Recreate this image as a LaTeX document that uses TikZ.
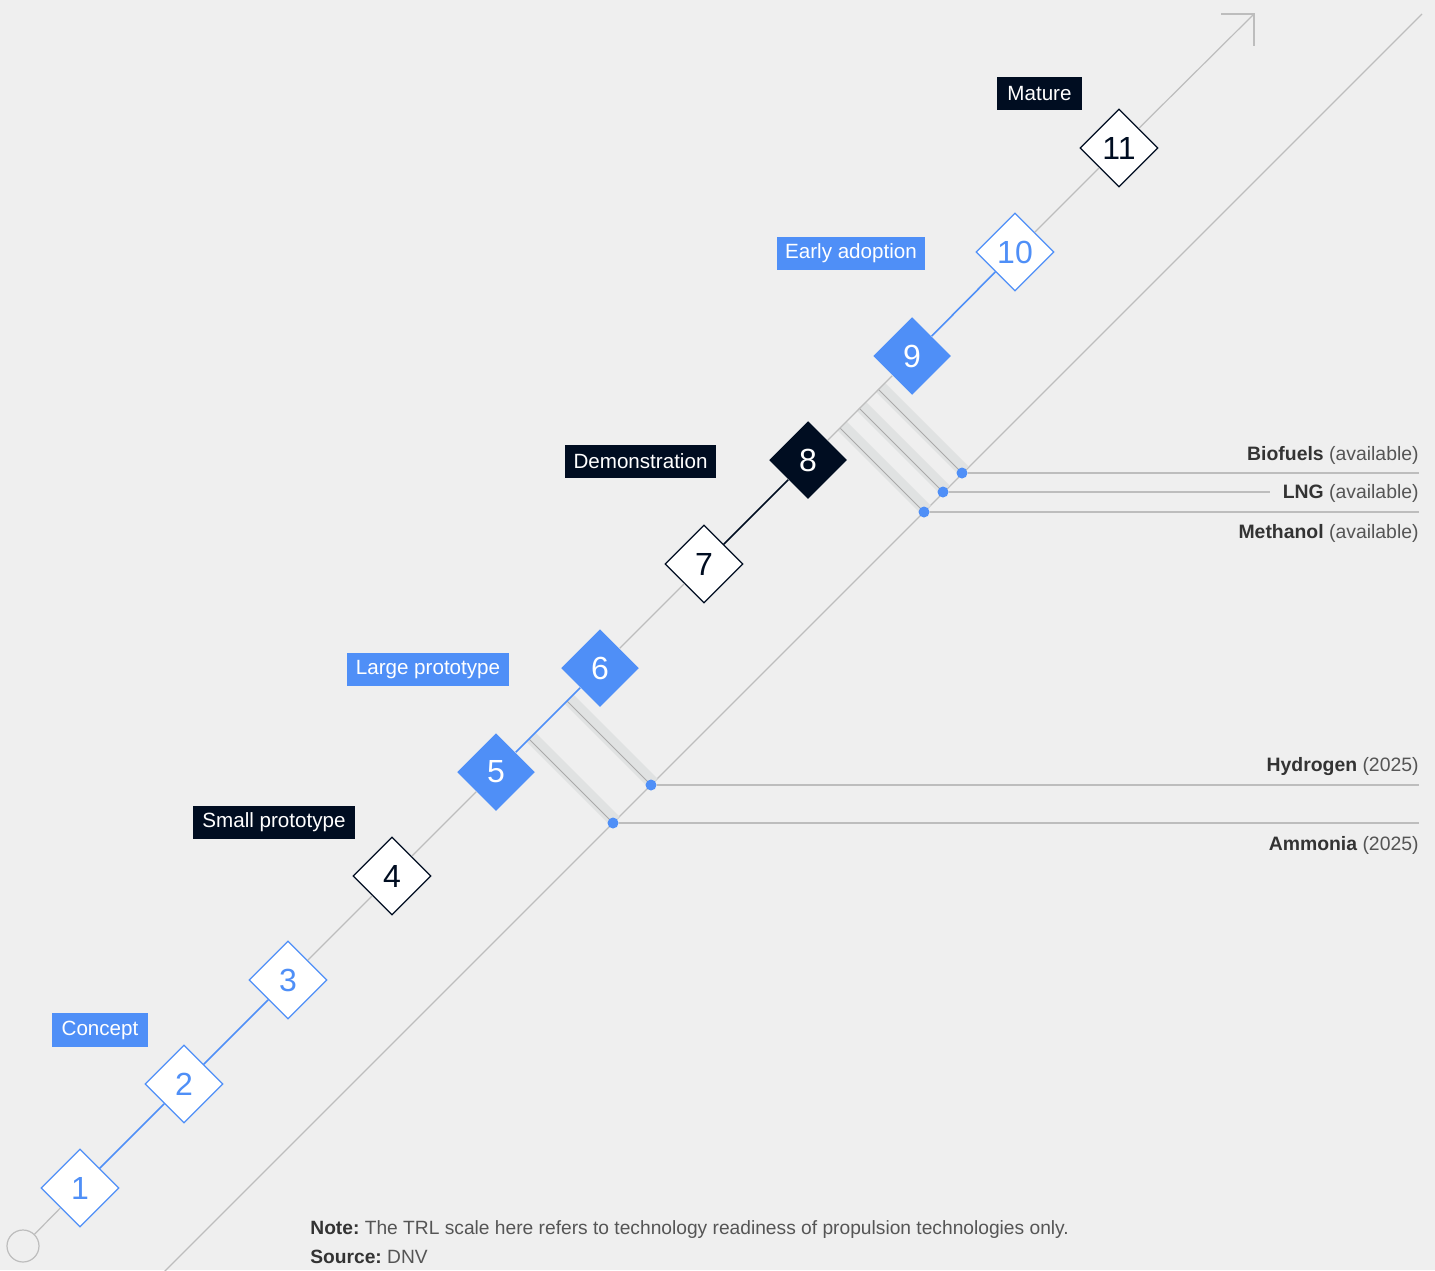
\documentclass[tikz,border=0pt]{standalone}
\usepackage{fontspec}
\setmainfont{Liberation Sans}
\usetikzlibrary{shapes.geometric}
\definecolor{bg}{HTML}{EFEFEF}
\definecolor{tblue}{HTML}{4F8FF7}
\definecolor{navy}{HTML}{000D21}
\definecolor{lgray}{HTML}{BDBDBD}
\definecolor{bandgray}{HTML}{E0E2E2}
\definecolor{bandline}{HTML}{A9A9A9}
\definecolor{darktext}{HTML}{333333}
\definecolor{midtext}{HTML}{555555}
\begin{document}
\begin{tikzpicture}[x=0.5pt,y=-0.5pt,
 dia/.style={diamond, aspect=1, minimum width=39pt, minimum height=39pt, inner sep=0pt, font=\fontsize{16}{16}\selectfont, line width=0.6pt},
 dwb/.style={dia, fill=white, draw=tblue, text=tblue},
 dwk/.style={dia, fill=white, draw=navy, text=navy},
 dblue/.style={dia, fill=tblue, text=white},
 dnavy/.style={dia, fill=navy, text=white},
 stage/.style={inner sep=0pt, minimum height=16.5pt, text=white, font=\fontsize{10.3}{12}\selectfont},
 seggray/.style={lgray, line width=0.6pt},
 segblue/.style={tblue, line width=0.8pt},
 segnavy/.style={navy, line width=0.8pt},
 dot/.style={circle, fill=tblue, inner sep=0pt, minimum size=5.5pt},
 hline/.style={lgray, line width=0.6pt},
 fuel/.style={anchor=east, inner sep=0pt, text=midtext, font=\fontsize{9.7}{12}\selectfont},
 notetext/.style={anchor=west, inner sep=0pt, text=midtext, font=\fontsize{9.6}{12}\selectfont},
]
\fill[bg] (0,0) rectangle (1435,1270);
\useasboundingbox (0,0) rectangle (1435,1270);
\clip (0,0) rectangle (1435,1270);

% second (gray) line
\coordinate (s0) at (156,1280);
\coordinate (s1) at (1422,14);
\draw[seggray] (s0) -- (s1);

% fuel bands
\foreach \dx/\dy in {962/473,943/492,924/512,651/785,613/823} {
  \fill[bandgray] ({\dx-84-2.5},{\dy-84+2.5}) -- ({\dx-84+6.5},{\dy-84-6.5}) -- ({\dx+6.5},{\dy-6.5}) -- ({\dx-2.5},{\dy+2.5}) -- cycle;
  \draw[bandline, line width=0.5pt] ({\dx-84},{\dy-84}) -- (\dx,\dy);
}

% start circle and arrow tip
\node[circle, draw=lgray, line width=0.6pt, minimum size=16pt, inner sep=0pt] (c0) at (23,1246) {};
\coordinate (tip) at (1254,14);
\coordinate (tipl) at (1221,14);
\coordinate (tipd) at (1254,46);

% diamonds
\node[dwb] (d1) at (80,1188) {1};
\node[dwb] (d2) at (184,1084) {2};
\node[dwb] (d3) at (288,980) {3};
\node[dwk] (d4) at (392,876) {4};
\node[dblue] (d5) at (496,772) {5};
\node[dblue] (d6) at (600,668) {6};
\node[dwk] (d7) at (704,564) {7};
\node[dnavy] (d8) at (808,460) {8};
\node[dblue] (d9) at (912,356) {9};
\node[dwb] (d10) at (1015,252) {10};
\node[dwk] (d11) at (1119,148) {11};

% main line segments
\draw[seggray] (c0) -- (d1);
\draw[segblue] (d1) -- (d2);
\draw[segblue] (d2) -- (d3);
\draw[seggray] (d3) -- (d4);
\draw[seggray] (d4) -- (d5);
\draw[segblue] (d5) -- (d6);
\draw[seggray] (d6) -- (d7);
\draw[segnavy] (d7) -- (d8);
\draw[seggray] (d8) -- (d9);
\draw[segblue] (d9) -- (d10);
\draw[seggray] (d10) -- (d11);
\draw[seggray] (d11) -- (tip);
\draw[seggray] (tipl) -- (tip) -- (tipd);

% dots and horizontal lines
\node[dot] (f1) at (962,473) {};
\node[dot] (f2) at (943,492) {};
\node[dot] (f3) at (924,512) {};
\node[dot] (f4) at (651,785) {};
\node[dot] (f5) at (613,823) {};
\coordinate (e1) at (1419,473);
\coordinate (e2) at (1270,492);
\coordinate (e3) at (1419,512);
\coordinate (e4) at (1419,785);
\coordinate (e5) at (1419,823);
\draw[hline] (f1) -- (e1);
\draw[hline] (f2) -- (e2);
\draw[hline] (f3) -- (e3);
\draw[hline] (f4) -- (e4);
\draw[hline] (f5) -- (e5);

% fuel labels
\node[fuel] (l1) at (1419,455) {\textcolor{darktext}{\bfseries Biofuels} (available)};
\node[fuel] (l2) at (1419,493) {\textcolor{darktext}{\bfseries LNG} (available)};
\node[fuel] (l3) at (1419,533) {\textcolor{darktext}{\bfseries Methanol} (available)};
\node[fuel] (l4) at (1419,767) {\textcolor{darktext}{\bfseries Hydrogen} (2025)};
\node[fuel] (l5) at (1419,845) {\textcolor{darktext}{\bfseries Ammonia} (2025)};

% stage labels
\node[stage, fill=navy, minimum width=42.5pt] (mature) at (1039.5,93.5) {Mature};
\node[stage, fill=tblue, minimum width=74pt] (early) at (851,253) {Early adoption};
\node[stage, fill=navy, minimum width=75.5pt] (demo) at (640.5,461.5) {Demonstration};
\node[stage, fill=tblue, minimum width=81pt] (large) at (428,669.5) {Large prototype};
\node[stage, fill=navy, minimum width=81pt] (small) at (274,822.5) {Small prototype};
\node[stage, fill=tblue, minimum width=48pt, minimum height=17pt] (concept) at (100,1030) {Concept};

% note
\node[notetext] (note) at (310,1230) {\textcolor{darktext}{\bfseries Note:}~The TRL scale here refers to technology readiness of propulsion technologies only.};
\node[notetext] (source) at (310,1257) {\textcolor{darktext}{\bfseries Source:}~DNV};
\end{tikzpicture}
\end{document}
